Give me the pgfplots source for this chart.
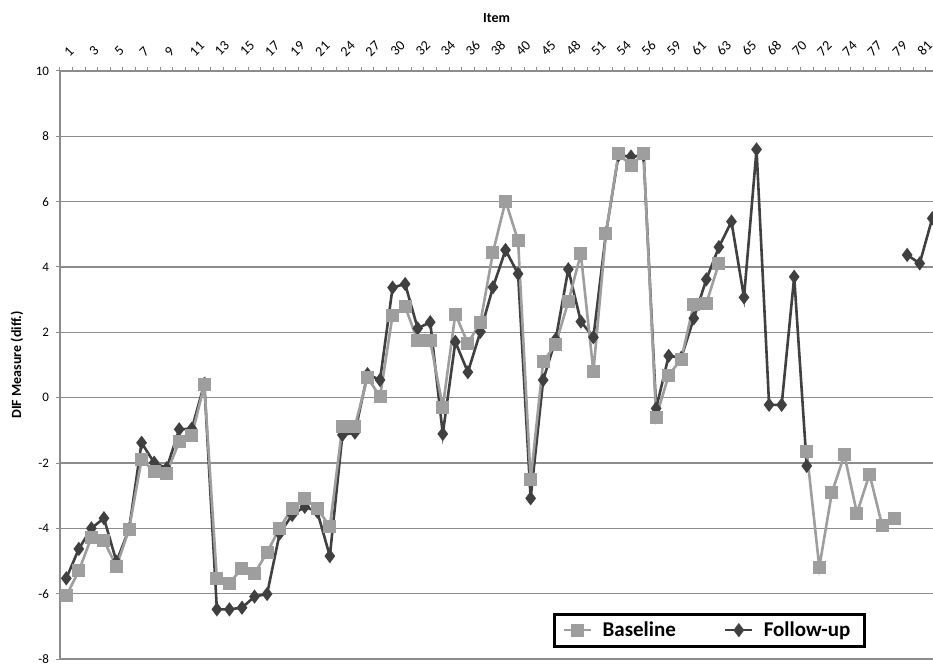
\documentclass[border=0pt]{standalone}
\usepackage{pgfplots}
\pgfplotsset{compat=1.18}
\usepackage{pgfplotstable}
\usepackage{fontspec}
\setmainfont{Carlito}
\definecolor{basec}{RGB}{158,158,158}
\definecolor{folc}{RGB}{64,64,64}
\definecolor{gridc}{RGB}{140,140,140}

\pgfplotstableread{
i base fol
0 -6.07 -5.53
1 -5.30 -4.63
2 -4.28 -4.00
3 -4.38 -3.69
4 -5.17 -5.02
5 -4.03 -4.03
6 -1.89 -1.38
7 -2.26 -1.99
8 -2.31 -2.16
9 -1.35 -0.97
10 -1.17 -0.95
11 0.39 0.42
12 -5.55 -6.48
13 -5.68 -6.48
14 -5.22 -6.43
15 -5.38 -6.09
16 -4.74 -6.01
17 -3.99 -4.16
18 -3.39 -3.59
19 -3.08 -3.34
20 -3.39 -3.49
21 -3.95 -4.85
22 -0.89 -1.14
23 -0.87 -1.07
24 0.62 0.72
25 0.03 0.54
26 2.53 3.37
27 2.79 3.48
28 1.74 2.12
29 1.74 2.31
30 -0.29 -1.11
31 2.56 1.71
32 1.66 0.78
33 2.31 2.02
34 4.45 3.38
35 6.02 4.52
36 4.81 3.79
37 -2.52 -3.08
38 1.10 0.54
39 1.64 1.79
40 2.94 3.93
41 4.40 2.33
42 0.80 1.85
43 5.03 5.03
44 7.46 7.42
45 7.11 7.38
46 7.46 7.42
47 -0.60 -0.33
48 0.69 1.28
49 1.18 1.22
50 2.86 2.43
51 2.89 3.62
52 4.11 4.61
53 nan 5.39
54 nan 3.07
55 nan 7.60
56 nan -0.22
57 nan -0.22
58 nan 3.70
59 -1.65 -2.09
60 -5.19 nan
61 -2.91 nan
62 -1.75 nan
63 -3.54 nan
64 -2.34 nan
65 -3.90 nan
66 -3.69 nan
67 nan 4.37
68 nan 4.11
69 nan 5.49
}\data

\begin{document}
\begin{tikzpicture}
\begin{axis}[
  scale only axis, width=436.5pt, height=294pt,
  xmin=-0.5, xmax=69.06, ymin=-8, ymax=10,
  axis x line*=top, axis y line*=left,
  axis line style={gridc, line width=0.6pt},
  ytick={-8,-6,...,10},
  ymajorgrids, grid style={gridc, line width=0.6pt},
  xtick={0,2,...,68},
  xticklabels={1,3,5,7,9,11,13,15,17,19,21,24,27,30,32,34,36,38,40,45,48,51,54,56,59,61,63,65,68,70,72,74,77,79,81},
  minor xtick={-0.5,0.5,...,69.5},
  tick align=outside,
  major tick length=2pt, minor tick length=2pt,
  major x tick style={draw=none},
  minor x tick style={gridc, line width=0.5pt},
  y tick style={gridc, line width=0.5pt},
  /pgf/number format/assume math mode=true,
  yticklabel style={font=\fontsize{6.5}{7}\selectfont, text=black, anchor=east},
  xticklabel style={font=\fontsize{7}{8}\selectfont, text=black, rotate=45, anchor=south west, xshift=1.2pt, yshift=-1.2pt},
  xlabel={Item},
  xlabel style={at={(axis description cs:0.5,1)}, anchor=center, yshift=26.5pt, font=\bfseries\fontsize{7}{8}\selectfont},
  ylabel={DIF Measure (diff.)},
  ylabel style={at={(axis description cs:0,0.5)}, anchor=center, yshift=21.5pt, font=\bfseries\fontsize{7}{8}\selectfont},
  unbounded coords=jump,
  legend columns=2,
  legend style={at={(0.744,0.049)}, anchor=center, draw=black, line width=1.5pt,
    font=\bfseries\fontsize{10.5}{12}\selectfont, inner xsep=4pt, inner ysep=1.5pt},
  legend image code/.code={\draw[mark repeat=2,mark phase=2] plot coordinates {(0cm,0cm)(0.24cm,0cm)(0.48cm,0cm)};},
]
\addplot[folc, line width=1.3pt, mark=diamond*, mark size=2.5pt, mark options={fill=folc, draw=folc}, forget plot] table[x=i,y=fol]{\data};
\addplot[basec, line width=1.3pt, mark=square*, mark size=2.6pt, mark options={fill=basec, draw=basec}] table[x=i,y=base]{\data};
\addlegendimage{folc, line width=1.3pt, mark=diamond*, mark size=2.5pt, mark options={fill=folc, draw=folc}}
\legend{\kern3pt Baseline\kern22pt\mbox{}, \kern3pt Follow-up\kern1pt\mbox{}}
\end{axis}
\pgfresetboundingbox
\path[use as bounding box] ([xshift=-30pt,yshift=-3pt]current axis.south west) rectangle ([yshift=35.5pt]current axis.north east);
\end{tikzpicture}
\end{document}
